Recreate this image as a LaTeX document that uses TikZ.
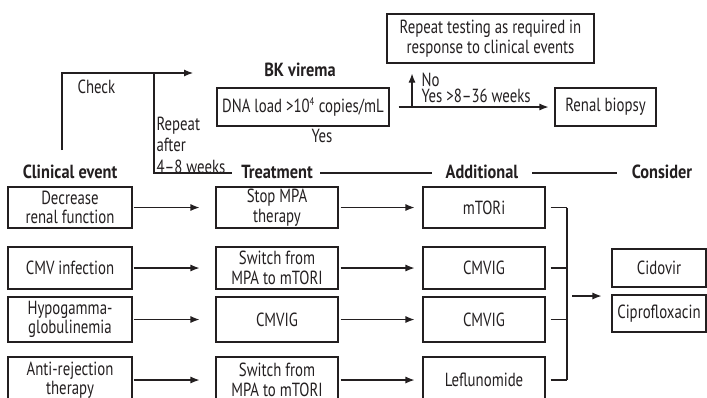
\documentclass[tikz,border=0pt]{standalone}
\usepackage{fontspec}
\setmainfont{PT Sans}[FakeStretch=0.78,BoldFeatures={FakeStretch=0.86}]
\usetikzlibrary{arrows.meta,calc}
\definecolor{ink}{HTML}{231F20}
\begin{document}
\begin{tikzpicture}[x=1pt,y=-1pt,line width=1.1pt,draw=ink,text=ink,
  box/.style={draw,rectangle,inner sep=0pt,align=center,font=\fontsize{19}{19.5}\selectfont},
  hdr/.style={inner sep=0pt,font=\fontsize{19}{19.5}\selectfont\bfseries},
  lbl/.style={inner sep=0pt,align=left,font=\fontsize{19}{19.5}\selectfont},
  arr/.style={-{Latex[length=9pt,width=7pt]}}]
\useasboundingbox (0,0) rectangle (707,397);
\clip (0,0) rectangle (707,397);
% top part
\node[box,minimum width=172,minimum height=38] (dna) at (303,107) {DNA load >10\textsuperscript{\fontsize{11}{11}\selectfont 4} copies/mL};
\node[box,minimum width=101,minimum height=38] (bx) at (605.5,107) {Renal biopsy};
\node[box,minimum width=207,minimum height=49] (rep) at (490.5,38.5) {Repeat testing as required in\\response to clinical events};
\node[hdr] (bk) at (300,70) {BK virema};
\node[lbl] (yes) at (322,136) {Yes};
\node[lbl,anchor=base west] (no) at (421,86) {No};
\node[lbl,anchor=base west] (yes2) at (421,102) {Yes >8–36 weeks};
\node[lbl,anchor=west] (chk) at (77,87) {Check};
\node[lbl,anchor=west,font=\fontsize{19}{21.5}\selectfont] (rpt) at (156,145) {Repeat\\after\\4–8 weeks};
\coordinate (ck0) at (62,150);
\coordinate (ck1) at (62,73);
\coordinate (ck2) at (193,73);
\coordinate (rp0) at (154,73);
\coordinate (rp1) at (154,173);
\coordinate (rp2) at (232,173);
\draw[arr] (ck0) -- (ck1) -- (ck2);
\draw (rp0) -- (rp1) -- (rp2);
\coordinate (sp) at (412,107);
\draw[arr,shorten <=9pt,shorten >=6pt] (dna.east) -- (bx.west);
\draw[arr,shorten >=10pt] (sp) -- (sp |- rep.south);
% headers
\node[hdr] (hC) at (70,172) {Clinical event};
\node[hdr] (hT) at (277,172) {Treatment};
\node[hdr] (hA) at (482,172) {Additional};
\node[hdr] (hK) at (662,172) {Consider};
\coordinate (l1a) at (320,173);
\coordinate (l1b) at (432,173);
\coordinate (l2a) at (532,173);
\coordinate (l2b) at (617,173);
\draw (l1a) -- (l1b);
\draw (l2a) -- (l2b);
% rows
\node[box,minimum width=124,minimum height=41] (c1) at (70,207.5) {Decrease\\renal function};
\node[box,minimum width=124,minimum height=42] (c2) at (70,268) {CMV infection};
\node[box,minimum width=124,minimum height=45] (c3) at (70,319.5) {Hypogamma-\\globulinemia};
\node[box,minimum width=124,minimum height=46] (c4) at (70,380) {Anti-rejection\\therapy};
\node[box,minimum width=122,minimum height=41] (t1) at (277,207.5) {Stop MPA\\therapy};
\node[box,minimum width=122,minimum height=42] (t2) at (277,268) {Switch from\\MPA to mTORI};
\node[box,minimum width=122,minimum height=45] (t3) at (277,319.5) {CMVIG};
\node[box,minimum width=122,minimum height=46] (t4) at (277,380) {Switch from\\MPA to mTORI};
\node[box,minimum width=122,minimum height=41] (a1) at (484,207.5) {mTORi};
\node[box,minimum width=122,minimum height=42] (a2) at (484,268) {CMVIG};
\node[box,minimum width=122,minimum height=45] (a3) at (484,319.5) {CMVIG};
\node[box,minimum width=122,minimum height=46] (a4) at (484,380) {Leflunomide};
\foreach \i in {1,2,3,4}{
  \draw[arr,shorten <=1pt,shorten >=16pt] (c\i.east) -- (t\i.west);
  \draw[arr,shorten <=2pt,shorten >=8pt] (t\i.east) -- (a\i.west);
}
\node[box,minimum width=94,minimum height=38] (k1) at (659,268) {Cidovir};
\node[box,minimum width=94,minimum height=37] (k2) at (659,313.5) {Ciprofloxacin};
\coordinate (bv1) at (567,207.5);
\coordinate (bv4) at (567,380);
\foreach \i in {1,2,3,4}{
  \draw[shorten <=5pt] (a\i.east) -- (a\i.east -| bv1);
}
\draw (bv1) -- (bv4);
\coordinate (ka) at (572,296);
\draw[arr,shorten >=10pt] (ka) -- (ka -| k1.west);
\end{tikzpicture}
\end{document}
